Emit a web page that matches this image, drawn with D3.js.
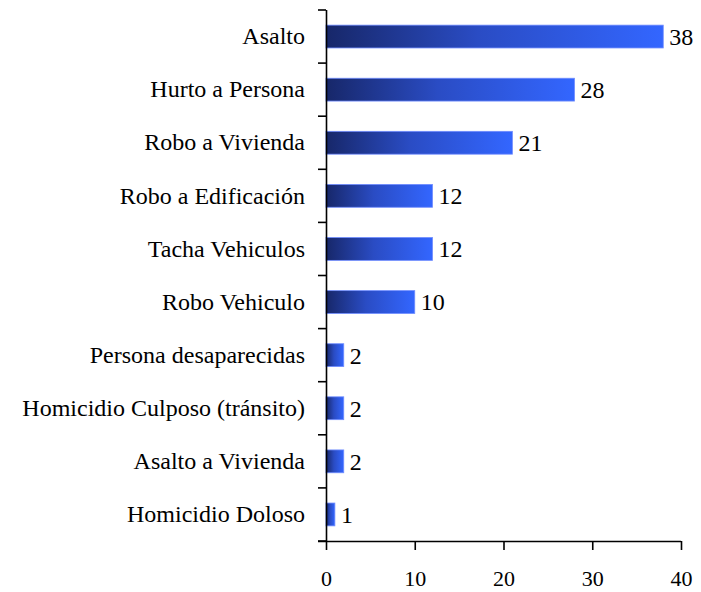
<!DOCTYPE html>
<html>
<head>
<meta charset="utf-8">
<script src="https://cdn.jsdelivr.net/npm/d3@7"></script>
<style>
  body { margin: 0; background: #fff; }
  svg { display: block; }
  text { font-family: "Liberation Serif", "Times New Roman", serif; fill: #000; }
</style>
</head>
<body>
<svg></svg>
<script>
const categories = [
    "Asalto",
    "Hurto a Persona",
    "Robo a Vivienda",
    "Robo a Edificación",
    "Tacha Vehiculos",
    "Robo Vehiculo",
    "Persona desaparecidas",
    "Homicidio Culposo (tránsito)",
    "Asalto a Vivienda",
    "Homicidio Doloso"
]
const values = [38, 28, 21, 12, 12, 10, 2, 2, 2, 1]
const xTicks = [0, 10, 20, 30, 40]

const width = 701
const height = 592
const margin = {top: 10, right: 20, bottom: 51, left: 326}
const serif = "'Liberation Serif', 'Times New Roman', serif"

const svg = d3.select("svg")
    .attr("width", width)
    .attr("height", height)

// gradient dark navy -> bright blue, per bar
const grad = svg.append("defs")
    .append("linearGradient")
    .attr("id", "barGrad")
    .attr("x1", "0%").attr("x2", "100%")
    .attr("y1", "0%").attr("y2", "0%")
grad.append("stop").attr("offset", "0%").attr("stop-color", "#172769")
grad.append("stop").attr("offset", "45%").attr("stop-color", "#2a4cc4")
grad.append("stop").attr("offset", "100%").attr("stop-color", "#3366ff")

const x = d3.scaleLinear()
    .domain([0, 40])
    .range([margin.left, 681])

const y = d3.scaleBand()
    .domain(categories)
    .range([margin.top, height - margin.bottom])
    .paddingInner(0.57)
    .paddingOuter(0.285)

const data = categories.map((c, i) => ({name: c, value: values[i]}))

// bars
svg.append("g")
    .selectAll("rect")
    .data(data)
    .enter()
    .append("rect")
    .attr("x", x(0))
    .attr("y", d => y(d.name))
    .attr("width", d => x(d.value) - x(0))
    .attr("height", y.bandwidth())
    .style("fill", "url(#barGrad)")
    .style("stroke", "#6f8cff")
    .style("stroke-width", 0.8)

// value labels
svg.append("g")
    .selectAll("text")
    .data(data)
    .enter()
    .append("text")
    .attr("x", d => x(d.value) + 6)
    .attr("y", d => y(d.name) + y.bandwidth() / 2)
    .attr("dy", "0.35em")
    .style("font-size", "24px")
    .style("font-family", serif)
    .text(d => d.value)

// x axis
const xAxis = svg.append("g")
    .attr("transform", `translate(0, ${height - margin.bottom})`)
    .call(d3.axisBottom(x).tickValues(xTicks).tickSize(9).tickPadding(20).tickSizeOuter(0))
xAxis.select(".domain").attr("stroke", "#000").attr("stroke-width", 1.6)
    .attr("d", `M${x(0) - 8},0.5H${x(40)}`)
xAxis.selectAll(".tick line").attr("stroke", "#000").attr("stroke-width", 1.6)
xAxis.selectAll(".tick text")
    .style("font-size", "22px")
    .style("font-family", serif)
    .attr("fill", "#000")

// y axis: labels via axisLeft, ticks on band boundaries
const yAxis = svg.append("g")
    .attr("transform", `translate(${x(0)}, 0)`)
    .call(d3.axisLeft(y).tickSize(0).tickPadding(21))
yAxis.select(".domain").attr("stroke", "#000").attr("stroke-width", 1.6)
    .attr("d", `M0.5,${y.range()[0]}V${y.range()[1]}`)
yAxis.selectAll(".tick text")
    .style("font-size", "24px")
    .style("font-family", serif)
    .attr("fill", "#000")

const bounds = d3.range(categories.length + 1).map(i => y.range()[0] + i * y.step())
yAxis.selectAll("line.bound")
    .data(bounds)
    .enter()
    .append("line")
    .attr("class", "bound")
    .attr("x1", -8)
    .attr("x2", 0)
    .attr("y1", d => d)
    .attr("y2", d => d)
    .attr("stroke", "#000")
    .attr("stroke-width", 1.6)
</script>
</body>
</html>
